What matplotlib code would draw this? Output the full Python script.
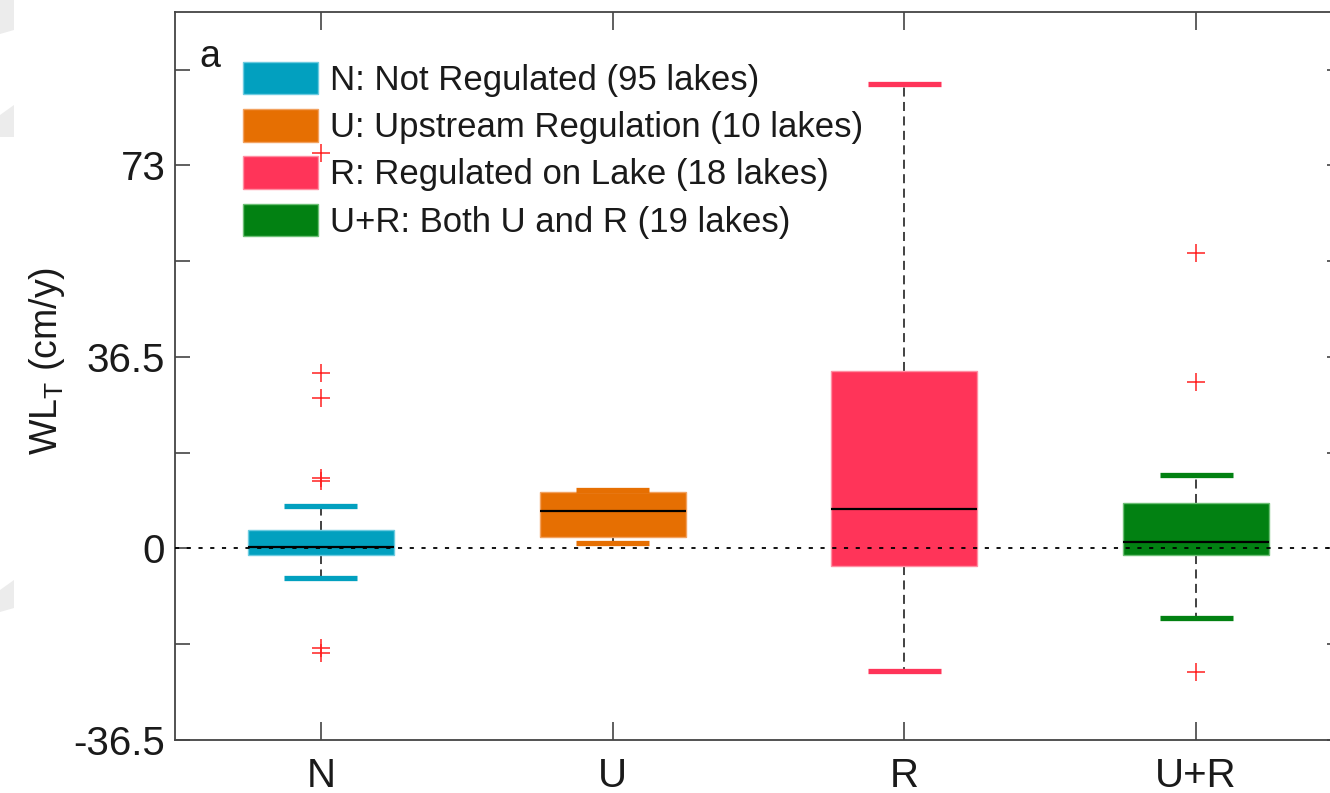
import matplotlib.pyplot as plt
from matplotlib.patches import Patch, Polygon

plt.rcParams['font.family'] = ['Liberation Sans', 'DejaVu Sans']
plt.rcParams['mathtext.fontset'] = 'custom'
plt.rcParams['mathtext.rm'] = 'Liberation Sans'

# water-level trend summaries per regulation class (cm/y)
groups = ['N', 'U', 'R', 'U+R']
legend_labels = ['N: Not Regulated (95 lakes)',
                 'U: Upstream Regulation (10 lakes)',
                 'R: Regulated on Lake (18 lakes)',
                 'U+R: Both U and R (19 lakes)']
medians = [0.2, 7.1, 7.6, 1.3]
q1 = [-1.3, 2.1, -3.4, -1.3]
q3 = [3.6, 10.7, 33.9, 8.6]
whisker_lo = [-5.7, 1.0, -23.4, -13.2]
whisker_hi = [8.0, 11.1, 88.5, 14.0]
outliers = [[75.3, 33.4, 28.6, 13.5, 12.8, -18.9, -20.0],
            [],
            [],
            [56.2, 31.8, -23.6]]

colors = ['#02A0BF', '#E66F02', '#FF3459', '#028112']
edges = ['#6CCBE0', '#F2A260', '#FF8FA3', '#6DBF75']

ytick_major = [-36.5, 0, 36.5, 73]
ytick_labels = ['-36.5', '0', '36.5', '73']
ytick_minor = [-18.25, 18.25, 54.75, 91.25]

fig = plt.figure(figsize=(13.3, 7.93), dpi=100)
ax = fig.add_axes([0.1316, 0.0668, 0.8774, 0.918])

stats = []
for i, g in enumerate(groups):
    stats.append(dict(label=g, med=medians[i], q1=q1[i], q3=q3[i],
                      whislo=whisker_lo[i], whishi=whisker_hi[i],
                      fliers=outliers[i]))

bp = ax.bxp(stats, positions=[1, 2, 3, 4], widths=0.5, capwidths=0.25,
            patch_artist=True,
            boxprops=dict(linewidth=1.0),
            whiskerprops=dict(color='#333333', linestyle=(0, (5, 3)), linewidth=1.3),
            capprops=dict(linewidth=3.8, solid_capstyle='butt'),
            medianprops=dict(color='black', linewidth=1.6),
            flierprops=dict(marker='+', markeredgecolor='#FF2020',
                            markersize=13, markeredgewidth=1.1, linestyle='none'))

for i, box in enumerate(bp['boxes']):
    box.set_facecolor(colors[i])
    box.set_edgecolor(edges[i])
for i, cap in enumerate(bp['caps']):
    cap.set_color(colors[i // 2])
for w in bp['whiskers']:
    w.set_zorder(1.5)

# dotted zero reference drawn over the boxes
ax.axhline(0, color='black', linestyle=(0, (2.3, 4.2)), linewidth=1.3, zorder=5)

ax.set_xlim(0.5, 4.5)
ax.set_ylim(-36.5, 102.2)
ax.set_xticks([1, 2, 3, 4])
ax.set_xticklabels(groups)
ax.set_yticks(ytick_major)
ax.set_yticklabels(ytick_labels)
ax.set_yticks(ytick_minor, minor=True)

ax.tick_params(axis='both', which='both', direction='in', top=True, right=True,
               color='#444444', width=1.2)
ax.tick_params(axis='y', which='both', length=11, labelsize=29, pad=7, labelcolor='#1a1a1a')
ax.tick_params(axis='x', which='major', length=13, labelsize=29, pad=12, labelcolor='#1a1a1a')
for s in ax.spines.values():
    s.set_color('#444444')
    s.set_linewidth(1.3)

ax.set_ylabel(r'WL$_{\mathrm{T}}$ (cm/y)', fontsize=27, color='#1a1a1a')
ax.yaxis.set_label_coords(-0.093, 0.52)

ax.text(0.021, 0.925, 'a', transform=ax.transAxes, fontsize=27,
        color='#1a1a1a', va='baseline', ha='left')

handles = [Patch(facecolor=colors[i], edgecolor=edges[i], linewidth=1.0)
           for i in range(len(groups))]
leg = ax.legend(handles, legend_labels, loc='upper left',
                bbox_to_anchor=(0.046, 0.951), frameon=False, fontsize=25,
                handlelength=2.16, handleheight=1.07, handletextpad=0.35,
                labelspacing=0.35, borderaxespad=0.0)
leg.set_zorder(6)
for t in leg.get_texts():
    t.set_color('#1a1a1a')

# faint marks along the left margin
for pts in [[(0, 0), (14, 0), (14, 30), (0, 34)],
            [(0, 115), (14, 105), (14, 137), (0, 137)],
            [(0, 590), (14, 580), (14, 608), (0, 612)]]:
    poly = [(x / 1330, 1 - y / 793) for x, y in pts]
    fig.patches.append(Polygon(poly, closed=True, transform=fig.transFigure,
                               facecolor='#ececec', edgecolor='none'))

fig.savefig('out.png', dpi=100)
